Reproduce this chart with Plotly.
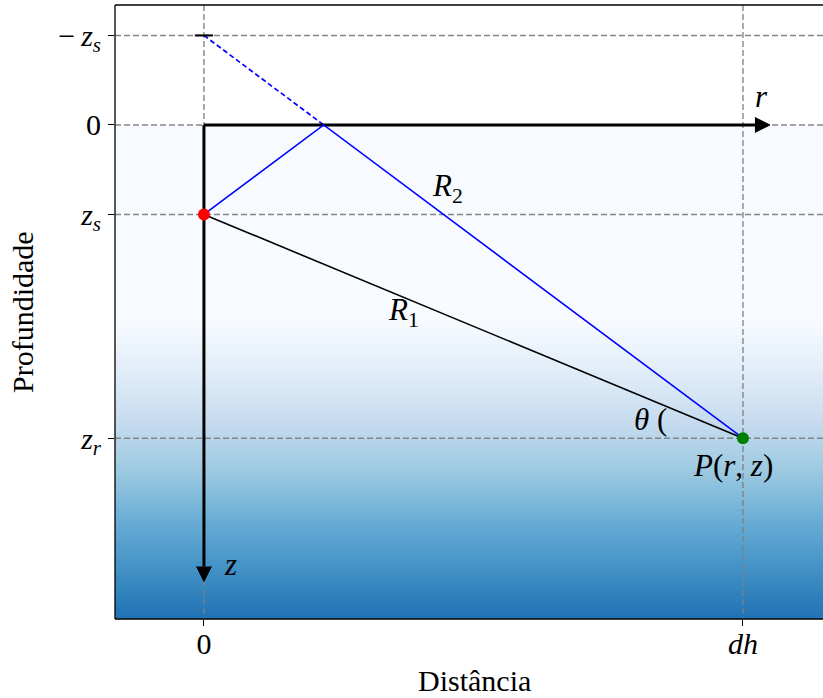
import numpy as np
import plotly.graph_objects as go

# Geometry of the source / receiver problem (abstract units)
zs = 20.0          # source depth
zr = 70.0          # receiver depth
dh = 100.0         # horizontal range to receiver

# Axis limits
x_lim = [-16.5, 114.85]
y_lim = [-26.8, 110.4]

# Depth-shading of the water column (depth -> Blues level)
shade_depths = [0.0, 44.0, 57.0, 73.0, 88.0, 110.4]
shade_levels = [0.0, 0.0, 0.13, 0.33, 0.50, 0.75]

# Tick positions / labels
x_ticks = [0.0, dh]
x_tick_text = ["0", "<i>dh</i>"]
y_ticks = [-zs, 0.0, zs, zr]
y_tick_text = ["\u2212\u2009<i>z</i><sub><i>s</i></sub>", "0",
               "<i>z</i><sub><i>s</i></sub>", "<i>z</i><sub><i>r</i></sub>"]

# Coordinate-axis arrows
r_arrow_end = 1.05 * dh
z_arrow_end = 102.0

SERIF = "Liberation Serif, Times New Roman, serif"
W, H = 823, 698
M_L, M_R, M_T, M_B = 115, 0, 5, 79
plot_w = W - M_L - M_R
plot_h = H - M_T - M_B
px_x = (x_lim[1] - x_lim[0]) / plot_w   # data units per pixel (x)
px_y = (y_lim[1] - y_lim[0]) / plot_h   # data units per pixel (y)

# Surface reflection point (image-source construction)
r_refl = dh * zs / (zs + zr)

fig = go.Figure()

# Water column shading below the surface
n_rows = 400
edges = np.linspace(0.0, y_lim[1], n_rows + 1)
centres = 0.5 * (edges[:-1] + edges[1:])
levels = np.interp(centres, shade_depths, shade_levels)
fig.add_trace(go.Heatmap(
    x=[x_lim[0] - 5, x_lim[1] + 5], y=edges, z=levels.reshape(-1, 1),
    colorscale="Blues", zmin=0, zmax=1, showscale=False, hoverinfo="skip"))

# Dashed reference grid
grid_style = dict(color="rgba(128,128,128,0.95)", width=1.4, dash="6px,3px")
for xv in x_ticks:
    fig.add_trace(go.Scatter(x=[xv, xv], y=y_lim, mode="lines",
                             line=grid_style, hoverinfo="skip"))
for yv in y_ticks:
    fig.add_trace(go.Scatter(x=x_lim, y=[yv, yv], mode="lines",
                             line=grid_style, hoverinfo="skip"))

# Image-source ray (above the surface)
fig.add_trace(go.Scatter(x=[0, r_refl], y=[-zs, 0], mode="lines",
                         line=dict(color="blue", width=1.7, dash="5px,3px"),
                         hoverinfo="skip"))

# Coordinate axes r and z with arrow heads
head_len = 15
head_half = 7.5
fig.add_trace(go.Scatter(x=[0, r_arrow_end - head_len * px_x], y=[0, 0],
                         mode="lines", line=dict(color="black", width=3),
                         hoverinfo="skip"))
fig.add_trace(go.Scatter(x=[0, 0], y=[0, z_arrow_end - head_len * px_y],
                         mode="lines", line=dict(color="black", width=3),
                         hoverinfo="skip"))
fig.add_trace(go.Scatter(
    x=[r_arrow_end - head_len * px_x, r_arrow_end, r_arrow_end - head_len * px_x],
    y=[-head_half * px_y, 0, head_half * px_y],
    fill="toself", fillcolor="black", mode="lines",
    line=dict(color="black", width=1), hoverinfo="skip"))
fig.add_trace(go.Scatter(
    x=[-head_half * px_x, 0, head_half * px_x],
    y=[z_arrow_end - head_len * px_y, z_arrow_end, z_arrow_end - head_len * px_y],
    fill="toself", fillcolor="black", mode="lines",
    line=dict(color="black", width=1), hoverinfo="skip"))

# Direct path R1 and surface-reflected path R2
fig.add_trace(go.Scatter(x=[0, dh], y=[zs, zr], mode="lines",
                         line=dict(color="black", width=1.6), hoverinfo="skip"))
fig.add_trace(go.Scatter(x=[0, r_refl, dh], y=[zs, 0, zr], mode="lines",
                         line=dict(color="blue", width=1.6), hoverinfo="skip"))

# Image source, source and receiver
fig.add_trace(go.Scatter(x=[0], y=[-zs], mode="markers",
                         marker=dict(symbol="line-ew", size=13,
                                     line=dict(color="black", width=2)),
                         hoverinfo="skip"))
fig.add_trace(go.Scatter(x=[0], y=[zs], mode="markers",
                         marker=dict(color="red", size=12, line=dict(width=0)),
                         hoverinfo="skip"))
fig.add_trace(go.Scatter(x=[dh], y=[zr], mode="markers",
                         marker=dict(color="green", size=12, line=dict(width=0)),
                         hoverinfo="skip"))

# Text labels on the diagram
labels = [
    (103.5, -6.3, "<i>r</i>"),
    (5.0, 98.3, "<i>z</i>"),
    (45.1, 14.1, "<i>R</i><sub>2</sub>"),
    (37.1, 41.8, "<i>R</i><sub>1</sub>"),
    (82.9, 65.9, "<i>θ</i> ("),
    (98.1, 76.2, "<i>P</i>(<i>r</i>, <i>z</i>)"),
]
for lx, ly, txt in labels:
    fig.add_annotation(x=lx, y=ly, xref="x", yref="y", text=txt,
                       xanchor="center", yanchor="middle", showarrow=False,
                       font=dict(family=SERIF, size=31, color="black"))

# Axis titles
fig.add_annotation(x=(474 - M_L) / plot_w, y=-(680 - M_T - plot_h) / plot_h,
                   xref="paper", yref="paper", text="Distância", showarrow=False,
                   xanchor="center", yanchor="middle",
                   font=dict(family=SERIF, size=30, color="black"))
fig.add_annotation(x=(22 - M_L) / plot_w, y=0.5, xref="paper", yref="paper",
                   text="Profundidade", textangle=-90, showarrow=False,
                   xanchor="center", yanchor="middle",
                   font=dict(family=SERIF, size=30, color="black"))

# Frame: left, top and bottom spines
frame = dict(color="black", width=1.3)
fig.add_shape(type="line", xref="paper", yref="paper", x0=0, x1=0, y0=0, y1=1, line=frame)
fig.add_shape(type="line", xref="paper", yref="paper", x0=0, x1=1.01, y0=1, y1=1, line=frame)
fig.add_shape(type="line", xref="paper", yref="paper", x0=0, x1=1.01, y0=0, y1=0, line=frame)

fig.update_xaxes(range=x_lim, tickvals=x_ticks, ticktext=x_tick_text,
                 showgrid=False, zeroline=False, showline=False,
                 ticks="outside", ticklen=6, tickwidth=1.2, tickcolor="black",
                 ticklabelstandoff=-8,
                 tickfont=dict(family=SERIF, size=30, color="black"))
fig.update_yaxes(range=y_lim[::-1], tickvals=y_ticks, ticktext=y_tick_text,
                 showgrid=False, zeroline=False, showline=False,
                 ticks="outside", ticklen=6, tickwidth=1.2, tickcolor="black",
                 ticklabelstandoff=1,
                 tickfont=dict(family=SERIF, size=30, color="black"))

fig.update_layout(width=W, height=H, showlegend=False,
                  margin=dict(l=M_L, r=M_R, t=M_T, b=M_B, pad=0),
                  plot_bgcolor="white", paper_bgcolor="white")

fig.write_html("out.html")
